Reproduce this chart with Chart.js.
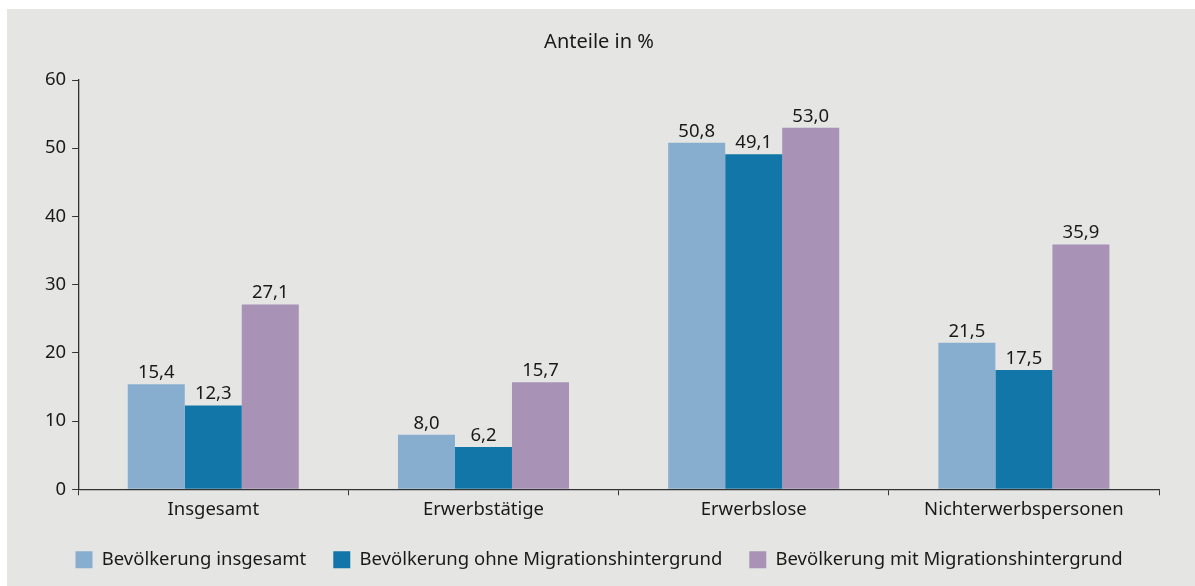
<!DOCTYPE html>
<html>
<head>
<meta charset="utf-8">
<script src="https://cdn.jsdelivr.net/npm/chart.js@4"></script>
<style>
  body { margin: 0; background: #fff; }
  #box { position: absolute; left: 7px; top: 9px; width: 1188px; height: 577px; background: #e5e5e4; }
</style>
</head>
<body>
<div id="box"><canvas id="barChart"></canvas></div>
<script>
const categories = ['Insgesamt', 'Erwerbstätige', 'Erwerbslose', 'Nichterwerbspersonen'];
const seriesNames = ['Bevölkerung insgesamt', 'Bevölkerung ohne Migrationshintergrund', 'Bevölkerung mit Migrationshintergrund'];
const totalValues = [15.4, 8.0, 50.8, 21.5];
const ohneValues = [12.3, 6.2, 49.1, 17.5];
const mitValues = [27.1, 15.7, 53.0, 35.9];
const yTicks = [0, 10, 20, 30, 40, 50, 60];

const textColor = '#1a1a1a';
const fontFamily = '"Noto Sans", "Open Sans", sans-serif';
const fontSize = 18.5;

// draws the value above every bar, German decimal comma
const valueLabels = {
    id: 'valueLabels',
    afterDatasetsDraw(chart) {
        const ctx = chart.ctx;
        ctx.save();
        ctx.font = fontSize + 'px ' + fontFamily;
        ctx.fillStyle = textColor;
        ctx.textAlign = 'center';
        ctx.textBaseline = 'bottom';
        chart.data.datasets.forEach((ds, i) => {
            chart.getDatasetMeta(i).data.forEach((bar, j) => {
                ctx.fillText(ds.data[j].toFixed(1).replace('.', ','), bar.x, bar.y - 2);
            });
        });
        ctx.restore();
    }
};

document.addEventListener('DOMContentLoaded', function () {
    const ctx = document.getElementById('barChart').getContext('2d');
    new Chart(ctx, {
        type: 'bar',
        data: {
            labels: categories,
            datasets: [
                { label: seriesNames[0], data: totalValues, backgroundColor: '#87aece' },
                { label: seriesNames[1], data: ohneValues, backgroundColor: '#1277a8' },
                { label: seriesNames[2], data: mitValues, backgroundColor: '#a892b5' }
            ]
        },
        options: {
            responsive: true,
            maintainAspectRatio: false,
            animation: false,
            datasets: {
                bar: { categoryPercentage: 0.633, barPercentage: 1.0 }
            },
            layout: {
                padding: { left: 32, right: 36, top: 10, bottom: 7 }
            },
            scales: {
                x: {
                    grid: { drawOnChartArea: false, tickLength: 6, color: '#333', offset: true },
                    border: { color: '#333', width: 1.3 },
                    ticks: { color: textColor, font: { family: fontFamily, size: fontSize }, padding: 3 }
                },
                y: {
                    min: 0,
                    max: 60,
                    afterBuildTicks: axis => { axis.ticks = yTicks.map(v => ({ value: v })); },
                    grid: { drawOnChartArea: false, tickLength: 6, color: '#333' },
                    border: { color: '#333', width: 1.3 },
                    ticks: { color: textColor, font: { family: fontFamily, size: fontSize }, padding: 6 }
                }
            },
            plugins: {
                title: {
                    display: true,
                    text: 'Anteile in %',
                    color: textColor,
                    font: { family: fontFamily, size: 20, weight: 'normal' },
                    padding: { top: 11, bottom: 26 }
                },
                legend: {
                    position: 'bottom',
                    labels: {
                        color: textColor,
                        font: { family: fontFamily, size: fontSize },
                        boxWidth: 17,
                        boxHeight: 17,
                        padding: 27
                    }
                },
                tooltip: { enabled: false }
            }
        },
        plugins: [valueLabels]
    });
});
</script>
</body>
</html>
